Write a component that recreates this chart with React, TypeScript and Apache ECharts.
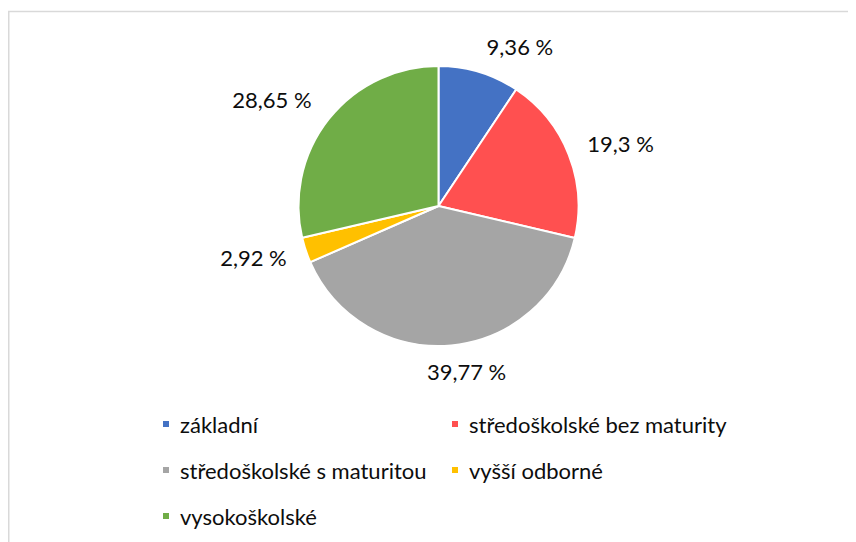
import React, { useEffect, useRef } from "react";
import * as echarts from "echarts";

const categories = [
  "základní",
  "středoškolské bez maturity",
  "středoškolské s maturitou",
  "vyšší odborné",
  "vysokoškolské",
];
const values = [9.36, 19.3, 39.77, 2.92, 28.65];
const colors = ["#4472C4", "#FF5050", "#A5A5A5", "#FFC000", "#70AD47"];

// label placement tuning (style only)
const labelLineLens = [26, 20, 29, 20, 22];
const labelNudges: [number, number][] = [
  [0, -1],
  [0, -4],
  [-27, -3],
  [0, 1],
  [0, -6],
];

const leftLegend = [categories[0], categories[2], categories[4]];
const rightLegend = [categories[1], categories[3]];

const FONT = "Lato, 'Noto Sans', sans-serif";
const TEXT = "#0d0d0d";

export default function App() {
  const ref = useRef<HTMLDivElement>(null);
  useEffect(() => {
    if (!ref.current) return;
    const chart = echarts.init(ref.current, undefined, { renderer: "svg" });
    const legendCommon = {
      orient: "vertical" as const,
      icon: "rect",
      itemWidth: 8,
      itemHeight: 8,
      itemGap: 24,
      padding: 0,
      selectedMode: false,
      textStyle: {
        fontFamily: FONT,
        fontSize: 22,
        color: TEXT,
        lineHeight: 20,
        padding: [0, 0, 0, 5],
      },
    };
    chart.setOption({
      animation: false,
      color: colors,
      graphic: [
        {
          type: "rect",
          shape: { x: 0.75, y: 3.5, width: 2000, height: 2000 },
          style: { fill: "none", stroke: "#d9d9d9", lineWidth: 1.5 },
          silent: true,
        },
      ],
      legend: [
        { ...legendCommon, left: 153, top: 405, data: leftLegend },
        { ...legendCommon, left: 442, top: 405, data: rightLegend },
      ],
      series: [
        {
          type: "pie",
          center: [430.5, 198],
          radius: 140,
          startAngle: 90,
          clockwise: true,
          avoidLabelOverlap: false,
          itemStyle: { borderColor: "#ffffff", borderWidth: 2 },
          label: {
            show: true,
            position: "outside",
            fontFamily: FONT,
            fontSize: 22,
            color: TEXT,
            distanceToLabelLine: 0,
            formatter: (p: any) => String(p.value).replace(".", ",") + " %",
          },
          labelLine: { show: false, length2: 0 },
          labelLayout: (p: any) => {
            const n = labelNudges[p.dataIndex] || [0, 0];
            return { dx: n[0], dy: n[1] };
          },
          emphasis: { disabled: true },
          data: categories.map((name, i) => ({
            name,
            value: values[i],
            labelLine: { show: false, length: labelLineLens[i], length2: 0 },
          })),
        },
      ],
    });
    return () => chart.dispose();
  }, []);
  return <div ref={ref} style={{ width: 848, height: 534 }} />;
}
